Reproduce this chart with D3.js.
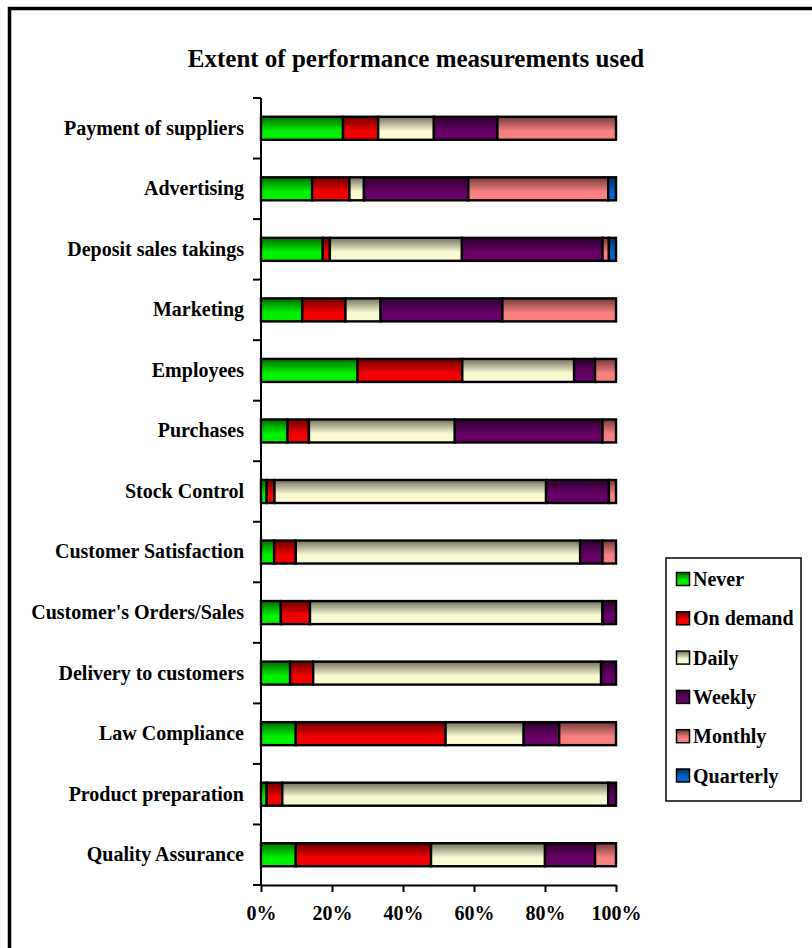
<!DOCTYPE html>
<html>
<head>
<meta charset="utf-8">
<script src="https://cdn.jsdelivr.net/npm/d3@7"></script>
<style>
  html, body { margin: 0; padding: 0; background: #fff; }
  svg { display: block; }
  text { font-family: "Liberation Serif", "Times New Roman", serif; font-weight: bold; fill: #000; }
</style>
</head>
<body>
<svg id="chart" width="812" height="948"></svg>
<script>
// Activities, top to bottom
const categories = [
  "Payment of suppliers", "Advertising", "Deposit sales takings", "Marketing",
  "Employees", "Purchases", "Stock Control", "Customer Satisfaction",
  "Customer's Orders/Sales", "Delivery to customers", "Law Compliance",
  "Product preparation", "Quality Assurance"
];

// Share of respondents (%) for each frequency, in the order of categories
const never      = [23.1, 14.4, 17.4, 11.6, 27.2,  7.5,  1.6,  3.7,  5.6,  8.2,  9.8,  1.6,  9.8];
const onDemand   = [ 9.9, 10.5,  2.0, 12.2, 29.5,  6.0,  2.2,  6.1,  8.2,  6.5, 42.2,  4.4, 38.1];
const daily      = [15.7,  4.1, 37.2,  9.9, 31.5, 41.1, 76.5, 80.1, 82.4, 81.1, 22.0, 91.8, 32.1];
const weekly     = [17.9, 29.4, 39.6, 34.3,  5.9, 41.6, 17.7,  6.3,  3.8,  4.2, 10.0,  2.2, 14.1];
const monthly    = [33.4, 39.4,  1.8, 32.0,  5.9,  3.8,  2.0,  3.8,  0.0,  0.0, 16.0,  0.0,  5.9];
const quarterly  = [ 0.0,  2.2,  2.0,  0.0,  0.0,  0.0,  0.0,  0.0,  0.0,  0.0,  0.0,  0.0,  0.0];

const seriesNames = ["Never", "On demand", "Daily", "Weekly", "Monthly", "Quarterly"];
const seriesColors = ["#00f000", "#f00000", "#fafad2", "#660066", "#f88080", "#0066cc"];
const tickValues = [0, 0.2, 0.4, 0.6, 0.8, 1.0];

const seriesValues = [never, onDemand, daily, weekly, monthly, quarterly];
const rows = categories.map((c, i) => {
  const r = { category: c };
  seriesNames.forEach((s, k) => { r[s] = seriesValues[k][i]; });
  return r;
});

const svg = d3.select("#chart");

// Outer frame (continues past the right and bottom edges)
svg.append("rect")
  .attr("x", 9.5).attr("y", 8.5)
  .attr("width", 900).attr("height", 1000)
  .attr("fill", "none").attr("stroke", "#000").attr("stroke-width", 3.5);

// Vertical shading: darker at the top of each bar
const defs = svg.append("defs");
seriesNames.forEach((s, k) => {
  const g = defs.append("linearGradient")
    .attr("id", "grad" + k)
    .attr("x1", 0).attr("y1", 0).attr("x2", 0).attr("y2", 1);
  g.append("stop").attr("offset", "0%").attr("stop-color", d3.interpolateRgb(seriesColors[k], "#000")(0.55));
  g.append("stop").attr("offset", "62%").attr("stop-color", seriesColors[k]);
  g.append("stop").attr("offset", "100%").attr("stop-color", seriesColors[k]);
});

const margin = { left: 261, right: 616, top: 98, bottom: 885 };

const x = d3.scaleLinear().domain([0, 1]).range([margin.left, margin.right]);
const y = d3.scaleBand().domain(categories)
  .range([margin.top, margin.bottom])
  .paddingInner(0.62).paddingOuter(0.31);

// Title
svg.append("text")
  .attr("x", 416).attr("y", 67)
  .attr("text-anchor", "middle")
  .style("font-size", "25px")
  .text("Extent of performance measurements used");

// Stacked, normalized bars
const stack = d3.stack().keys(seriesNames).offset(d3.stackOffsetExpand);
const layers = stack(rows);

svg.append("g").selectAll("g")
  .data(layers)
  .join("g")
  .attr("fill", (d, k) => `url(#grad${k})`)
  .selectAll("rect")
  .data(d => d.filter(p => p[1] - p[0] > 0))
  .join("rect")
  .attr("x", d => x(d[0]))
  .attr("y", d => y(d.data.category))
  .attr("width", d => x(d[1]) - x(d[0]))
  .attr("height", y.bandwidth())
  .attr("stroke", "#000")
  .attr("stroke-width", 2.4);

// Category axis: labels at band centres, ticks at band edges
const yAxis = svg.append("g")
  .attr("transform", `translate(${margin.left},0)`)
  .call(d3.axisLeft(y).tickSize(0).tickPadding(17));
yAxis.select(".domain").remove();
yAxis.selectAll("text")
  .style("font-size", "20px")
  .attr("font-family", null);

svg.append("line")
  .attr("x1", margin.left).attr("x2", margin.left)
  .attr("y1", margin.top).attr("y2", margin.bottom)
  .attr("stroke", "#000").attr("stroke-width", 2);

const edges = d3.range(categories.length + 1).map(i => y.range()[0] + i * y.step());
svg.append("g").selectAll("line")
  .data(edges)
  .join("line")
  .attr("x1", margin.left - 8).attr("x2", margin.left)
  .attr("y1", d => d).attr("y2", d => d)
  .attr("stroke", "#000").attr("stroke-width", 2);

// Percentage axis
const xAxis = svg.append("g")
  .attr("transform", `translate(0,${margin.bottom})`)
  .call(d3.axisBottom(x).tickValues(tickValues).tickFormat(d3.format(".0%"))
    .tickSize(7).tickSizeOuter(0).tickPadding(14));
xAxis.select(".domain").attr("stroke-width", 2);
xAxis.selectAll(".tick line").attr("stroke-width", 2);
xAxis.selectAll("text")
  .style("font-size", "20px")
  .attr("font-family", null);

// Legend
const legend = svg.append("g");
legend.append("rect")
  .attr("x", 666).attr("y", 558)
  .attr("width", 135).attr("height", 243)
  .attr("fill", "#fff").attr("stroke", "#000").attr("stroke-width", 1.5);

const item = legend.selectAll("g.item")
  .data(seriesNames)
  .join("g")
  .attr("class", "item")
  .attr("transform", (d, k) => `translate(676,${579 + k * 39.3})`);
item.append("rect")
  .attr("x", 0.5).attr("y", -6.5)
  .attr("width", 13).attr("height", 13)
  .attr("fill", (d, k) => `url(#grad${k})`)
  .attr("stroke", "#000").attr("stroke-width", 1.5);
item.append("text")
  .attr("x", 17).attr("y", 7)
  .style("font-size", "20px")
  .text(d => d);
</script>
</body>
</html>
